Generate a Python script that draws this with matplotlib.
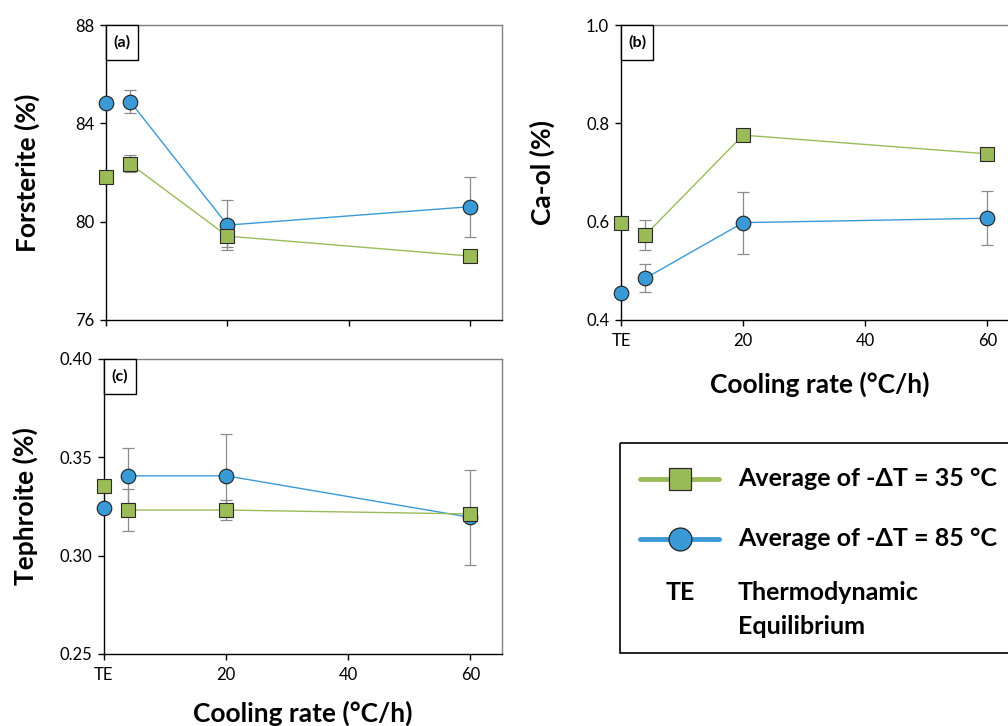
import matplotlib
matplotlib.use("Agg")
import matplotlib.pyplot as plt
from matplotlib.lines import Line2D
from matplotlib.patches import Rectangle

plt.rcParams['font.family'] = ['Lato', 'DejaVu Sans']

# ---- data ----
x_te = 0
x_rates = [4, 20, 60]
xticks = [0, 20, 40, 60]
xticklabels = ["TE", "20", "40", "60"]

# (a) Forsterite
fo_te_35 = 81.83
fo_te_85 = 84.81
fo_35 = [82.35, 79.41, 78.60]
fo_35_err = [0.35, 0.45, 0.0]
fo_85 = [84.88, 79.86, 80.61]
fo_85_err = [0.47, 1.02, 1.22]

# (b) Ca-ol
ca_te_35 = 0.598
ca_te_85 = 0.454
ca_35 = [0.573, 0.776, 0.738]
ca_35_err = [0.030, 0.0, 0.0]
ca_85 = [0.485, 0.598, 0.607]
ca_85_err = [0.029, 0.063, 0.055]

# (c) Tephroite
te_te_35 = 0.3354
te_te_85 = 0.3240
te_35 = [0.3232, 0.3232, 0.3212]
te_35_err = [0.0108, 0.0050, 0.0]
te_85 = [0.3406, 0.3406, 0.3195]
te_85_err = [0.0140, 0.0211, 0.0240]

GREEN = "#9BBB59"
BLUE = "#3A9AD6"
ERRC = "#8C8C8C"

W, H = 1008, 726
fig = plt.figure(figsize=(W / 100, H / 100), dpi=100)


def fig_rect(l, r, t, b):
    return [l / W, 1 - b / H, (r - l) / W, (b - t) / H]


def style(ax, wpx, hpx, ylim, yticks, yfmt, ylabel, letter, show_xlabels, xlabel, xlab_off=52):
    ax.set_xlim(0, 65.2)
    ax.set_ylim(*ylim)
    ax.set_yticks(yticks)
    ax.set_yticklabels([yfmt.format(v) for v in yticks], fontsize=12)
    ax.set_xticks(xticks)
    if show_xlabels:
        ax.set_xticklabels(xticklabels, fontsize=12)
    else:
        ax.set_xticklabels([])
    ax.tick_params(direction="out", length=4.5, width=1, color="black", pad=4)
    ax.tick_params(axis="x", pad=5)
    for s in ["left", "bottom"]:
        ax.spines[s].set_color("black")
        ax.spines[s].set_linewidth(1.0)
    for s in ["top", "right"]:
        ax.spines[s].set_color("#7f7f7f")
        ax.spines[s].set_linewidth(1.0)
    ax.set_ylabel(ylabel, fontsize=19, fontweight="bold")
    ax.yaxis.set_label_coords(-66 / wpx, 0.5)
    if xlabel:
        ax.set_xlabel(xlabel, fontsize=19, fontweight="bold")
        ax.xaxis.set_label_coords(0.5, -xlab_off / hpx)
    bw, bh = 32 / wpx, 35 / hpx
    ax.add_patch(Rectangle((0, 1 - bh), bw, bh, transform=ax.transAxes, fc="white",
                           ec="black", lw=1, zorder=6, clip_on=False))
    ax.text(bw / 2, 1 - bh / 2, letter, transform=ax.transAxes, ha="center", va="center",
            fontsize=11.5, fontweight="bold", zorder=7)


def draw(ax, te35, te85, s35, e35, s85, e85):
    ax.errorbar(x_rates, s85, yerr=e85, fmt="none", ecolor=ERRC, elinewidth=0.9,
                capsize=4, capthick=0.9, zorder=2)
    ax.errorbar(x_rates, s35, yerr=e35, fmt="none", ecolor=ERRC, elinewidth=0.9,
                capsize=4, capthick=0.9, zorder=2)
    ax.plot(x_rates, s85, "-o", color=BLUE, lw=1.0, ms=10.5, mfc=BLUE,
            mec="#1f1f1f", mew=0.8, zorder=3, clip_on=False)
    ax.plot(x_rates, s35, "-s", color=GREEN, lw=1.0, ms=10, mfc=GREEN,
            mec="#2a2a2a", mew=0.8, zorder=4, clip_on=False)
    ax.plot([x_te], [te85], "o", ms=10.5, mfc=BLUE, mec="#1f1f1f", mew=0.8,
            zorder=5, clip_on=False)
    ax.plot([x_te], [te35], "s", ms=10, mfc=GREEN, mec="#2a2a2a", mew=0.8,
            zorder=5, clip_on=False)


ax_a = fig.add_axes(fig_rect(106, 502, 25, 320))
draw(ax_a, fo_te_35, fo_te_85, fo_35, fo_35_err, fo_85, fo_85_err)
style(ax_a, 396, 295, (76, 88), [76, 80, 84, 88], "{:.0f}", "Forsterite (%)", "(a)", False, None)

ax_b = fig.add_axes(fig_rect(621, 1019, 25, 320))
draw(ax_b, ca_te_35, ca_te_85, ca_35, ca_35_err, ca_85, ca_85_err)
style(ax_b, 398, 295, (0.4, 1.0), [0.4, 0.6, 0.8, 1.0], "{:.1f}", "Ca-ol (%)", "(b)", True,
      "Cooling rate (°C/h)")

ax_c = fig.add_axes(fig_rect(104, 502, 359, 654))
draw(ax_c, te_te_35, te_te_85, te_35, te_35_err, te_85, te_85_err)
style(ax_c, 398, 295, (0.25, 0.40), [0.25, 0.30, 0.35, 0.40], "{:.2f}", "Tephroite (%)", "(c)", True,
      "Cooling rate (°C/h)", xlab_off=47)

# ---- legend box ----
lg = fig.add_axes([0, 0, 1, 1], zorder=10)
lg.set_xlim(0, W)
lg.set_ylim(H, 0)
lg.axis("off")
lg.add_patch(Rectangle((620, 443), 420, 210, fill=False, ec="black", lw=1.2, clip_on=False))
lg.add_line(Line2D([640, 719], [479, 479], color=GREEN, lw=3.5, solid_capstyle="round"))
lg.add_line(Line2D([680], [479], marker="s", ms=16, mfc=GREEN, mec="#2a2a2a", mew=0.9))
lg.add_line(Line2D([640, 719], [539, 539], color=BLUE, lw=3.5, solid_capstyle="round"))
lg.add_line(Line2D([680], [539], marker="o", ms=16.5, mfc=BLUE, mec="#1f1f1f", mew=0.9))
lg.text(738, 479, "Average of -ΔT = 35 °C", fontsize=18, fontweight="bold", va="center", ha="left")
lg.text(738, 539, "Average of -ΔT = 85 °C", fontsize=18, fontweight="bold", va="center", ha="left")
lg.text(680, 593, "TE", fontsize=18, fontweight="bold", va="center", ha="center")
lg.text(738, 593, "Thermodynamic", fontsize=18, fontweight="bold", va="center", ha="left")
lg.text(738, 627, "Equilibrium", fontsize=18, fontweight="bold", va="center", ha="left")

fig.savefig("out.png", dpi=100)
